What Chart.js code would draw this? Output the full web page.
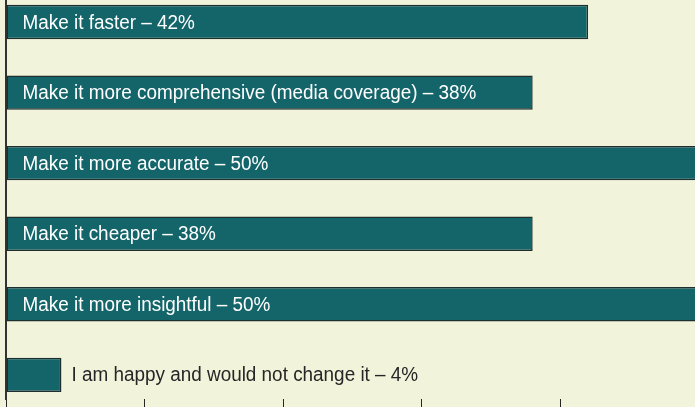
<!DOCTYPE html>
<html>
<head>
<meta charset="utf-8">
<script src="https://cdn.jsdelivr.net/npm/chart.js@4.4.1/dist/chart.umd.min.js"></script>
<style>
  html, body { margin: 0; padding: 0; background: #f1f4da; overflow: hidden; }
  #wrap { position: relative; width: 695px; height: 407px; overflow: hidden; }
  #wrap canvas { position: absolute; left: 0; top: 0; }
</style>
</head>
<body>
<div id="wrap"><canvas id="chart" width="699" height="407"></canvas></div>
<script>
// Survey answers
const categories = [
  "Make it faster",
  "Make it more comprehensive (media coverage)",
  "Make it more accurate",
  "Make it cheaper",
  "Make it more insightful",
  "I am happy and would not change it"
];
const values = [42, 38, 50, 38, 50, 4];
const positions = [0, 1, 2, 3, 4, 5];

// Percent axis: 0 to 50 in steps of 10 (only tick marks show)
const xMin = 0;
const xMax = 50;
const xStep = 10;

const barFill = "#14656a";
const barEdge = "#1f2e2e";
const inkDark = "#262626";
const labelFont = '20px "Liberation Sans", Arial, sans-serif';
const squeeze = 0.945; // the original type is a narrow gothic

// Write each answer on its bar (or next to it, if the bar is too short)
const barLabels = {
  id: "barLabels",
  afterDatasetsDraw(chart) {
    const ctx = chart.ctx;
    const meta = chart.getDatasetMeta(0);
    ctx.save();
    ctx.font = labelFont;
    ctx.textBaseline = "middle";
    meta.data.forEach((bar, i) => {
      const text = categories[i] + " – " + values[i] + "%";
      const w = ctx.measureText(text).width * squeeze;
      const inside = bar.x - bar.base > w + 30;
      const tx = inside ? bar.base + 16 : bar.x + 10;
      ctx.fillStyle = inside ? "#ffffff" : inkDark;
      ctx.save();
      ctx.translate(tx, bar.y + 1);
      ctx.scale(squeeze, 1);
      ctx.fillText(text, 0, 0);
      ctx.restore();
    });
    ctx.restore();
  }
};

new Chart(document.getElementById("chart"), {
  type: "bar",
  data: {
    datasets: [{
      data: positions.map((p, i) => ({ x: values[i], y: p })),
      backgroundColor: barFill,
      borderColor: barEdge,
      borderWidth: 1.5,
      borderSkipped: false,
      barPercentage: 0.487,
      categoryPercentage: 1
    }]
  },
  options: {
    indexAxis: "y",
    responsive: false,
    animation: false,
    layout: { padding: { left: 6, right: 0, top: 0, bottom: 0 } },
    plugins: {
      legend: { display: false },
      tooltip: { enabled: false }
    },
    scales: {
      x: {
        type: "linear",
        min: xMin,
        max: xMax,
        offset: false,
        ticks: { stepSize: xStep, display: false },
        grid: {
          drawOnChartArea: false,
          drawTicks: true,
          tickLength: 8,
          tickWidth: 1,
          tickColor: inkDark
        },
        border: { display: false }
      },
      y: {
        type: "linear",
        reverse: true,
        min: -0.312,
        max: 5.342,
        offset: false,
        afterBuildTicks: (scale) => {
          scale.ticks = positions.map((p) => ({ value: p }));
        },
        ticks: { display: false },
        grid: { display: false, drawTicks: false, offset: false },
        border: { display: true, color: "#333333", width: 2 }
      }
    }
  },
  plugins: [barLabels]
});
</script>
</body>
</html>
